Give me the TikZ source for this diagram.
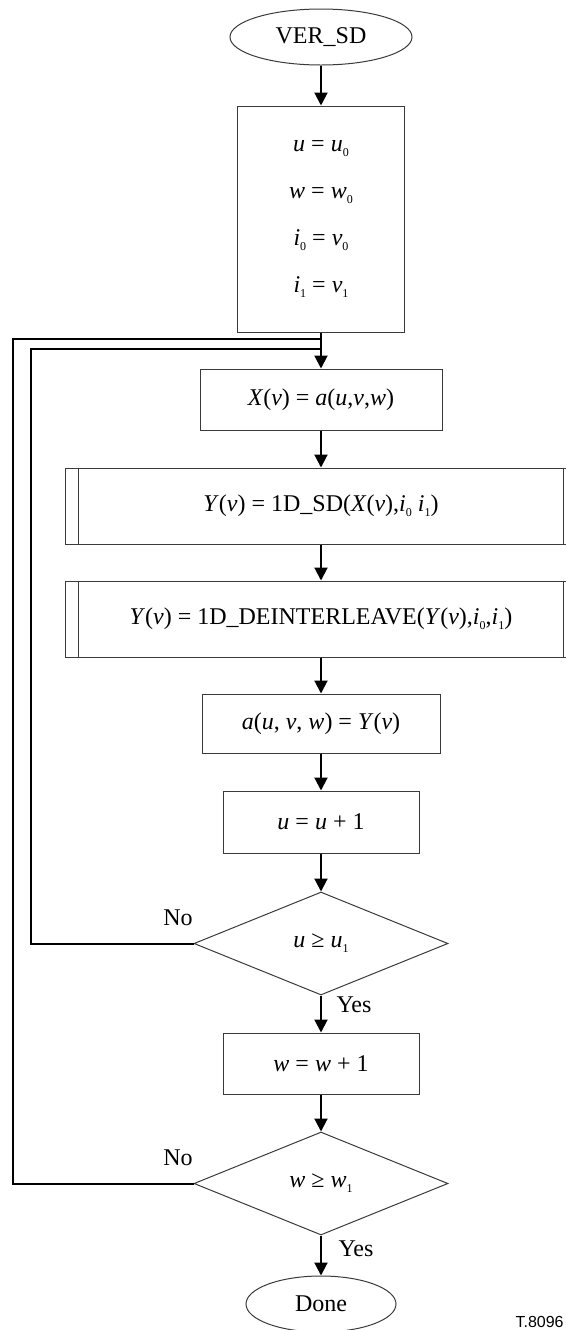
\documentclass[tikz,border=0pt]{standalone}
\usepackage{fontspec}
\setmainfont{Liberation Serif}
\setsansfont{Liberation Sans}
\usetikzlibrary{arrows.meta,shapes.geometric}
\definecolor{edge}{HTML}{3A3A3A}

\newcommand{\ivar}[1]{\textit{#1}}
\newcommand{\isub}[1]{\raisebox{-0.45ex}{\fontsize{6}{6}\selectfont #1}}

\begin{document}
\begin{tikzpicture}[x=0.5pt,y=-0.5pt,
    box/.style={draw=edge,line width=0.5pt,font=\fontsize{12}{14}\selectfont,inner sep=0pt},
    term/.style={box,ellipse},
    decide/.style={box,diamond},
    flow/.style={line width=1pt,-{Triangle[length=6.5pt,width=6.5pt]}},
    loopline/.style={line width=1pt},
    tag/.style={font=\fontsize{12}{14}\selectfont}]
    \useasboundingbox (0,0) rectangle (566,1330);

    % terminals and steps, top to bottom
    \node[term,minimum width=91pt,minimum height=28pt] (start) at (321,37) {VER\_SD};
    \node[box,minimum width=83.5pt,minimum height=113pt,align=center,
          font=\fontsize{12}{23.5}\selectfont] (init) at (321,219)
          {\ivar{u} = \ivar{u}\isub{0}\\ \ivar{w} = \ivar{w}\isub{0}\\
           \ivar{i}\isub{0} = \ivar{v}\isub{0}\\ \ivar{i}\isub{1} = \ivar{v}\isub{1}};
    \node[box,minimum width=121pt,minimum height=30.5pt] (xbox) at (321,399.5)
          {\ivar{X}(\ivar{v}) = \ivar{a}(\ivar{u},\ivar{v},\ivar{w})};
    \node[box,minimum width=256pt,minimum height=38pt] (sd) at (321,506)
          {\ivar{Y}(\ivar{v}) = 1D\_SD(\ivar{X}(\ivar{v}),\ivar{i}\isub{0} \ivar{i}\isub{1})};
    \node[box,minimum width=256pt,minimum height=38pt] (dil) at (321,619)
          {\ivar{Y}(\ivar{v}) = 1D\_DEINTERLEAVE(\ivar{Y}(\ivar{v}),\ivar{i}\isub{0},\ivar{i}\isub{1})};
    \node[box,minimum width=119pt,minimum height=29.5pt] (store) at (321,723.5)
          {\ivar{a}(\ivar{u}, \ivar{v}, \ivar{w}) = \ivar{Y}(\ivar{v})};
    \node[box,minimum width=98pt,minimum height=31pt] (incu) at (321,822)
          {\ivar{u} = \ivar{u} + 1};
    \node[decide,minimum width=127pt,minimum height=51.5pt] (testu) at (321,943.5)
          {\ivar{u} ≥ \ivar{u}\isub{1}};
    \node[box,minimum width=98pt,minimum height=30.5pt] (incw) at (321,1063.5)
          {\ivar{w} = \ivar{w} + 1};
    \node[decide,minimum width=127pt,minimum height=51.5pt] (testw) at (321,1183.5)
          {\ivar{w} ≥ \ivar{w}\isub{1}};
    \node[term,minimum width=75pt,minimum height=28pt] (done) at (321,1304) {Done};

    % side bars of the two sub-process boxes
    \foreach \n in {sd,dil} {
      \draw[edge,line width=0.5pt] ([xshift=7pt]\n.north west) -- ([xshift=7pt]\n.south west);
      \draw[edge,line width=0.5pt] ([xshift=-7pt]\n.north east) -- ([xshift=-7pt]\n.south east);
    }

    % main flow
    \draw[flow] (start) -- (init);
    \draw[flow] (init) -- (xbox);
    \draw[flow] (xbox) -- (sd);
    \draw[flow] (sd) -- (dil);
    \draw[flow] (dil) -- (store);
    \draw[flow] (store) -- (incu);
    \draw[flow] (incu) -- (testu);
    \draw[flow] (testu) -- (incw);
    \draw[flow] (incw) -- (testw);
    \draw[flow] (testw) -- (done);

    % loop backs
    \coordinate (jo) at (321,339);
    \coordinate (ji) at (321,349);
    \coordinate (outer) at (13,339);
    \coordinate (inner) at (31,349);
    \draw[loopline] (testw.west) -| (outer) -- (jo);
    \draw[loopline] (testu.west) -| (inner) -- (ji);

    \node[tag] (no1) at (178,918) {No};
    \node[tag] (yes1) at (354,1005) {Yes};
    \node[tag] (no2) at (178,1158) {No};
    \node[tag] (yes2) at (356,1249) {Yes};
    \node[font=\sffamily\fontsize{8}{9}\selectfont,anchor=north east,inner sep=0pt]
          (fig) at (564,1316) {T.8096};
\end{tikzpicture}
\end{document}
